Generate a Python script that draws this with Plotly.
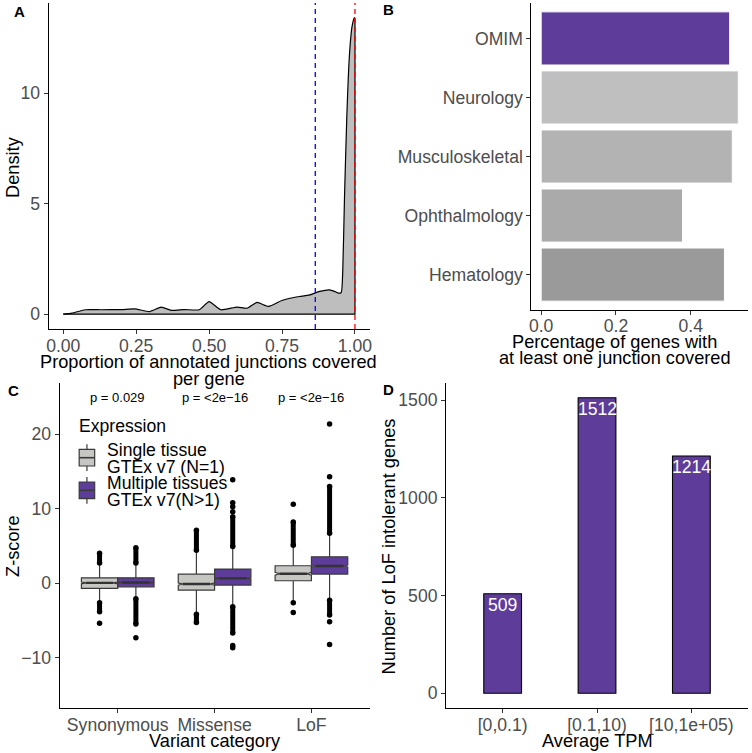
import plotly.graph_objects as go

W, H = 752, 753
FONT = "Liberation Sans, Arial, Helvetica, sans-serif"
PURPLE = "#5E3C99"
TICKC = "#4D4D4D"
TS = 17.6   # tick / legend font size
TT = 18.2   # title font size

# ---------------- Panel A data: density ----------------
dens_x = [0.0, 0.03, 0.076, 0.13, 0.2, 0.245, 0.296, 0.336, 0.37, 0.415, 0.466, 0.5, 0.54,
          0.596, 0.63, 0.664, 0.704, 0.749, 0.777, 0.81, 0.845, 0.879, 0.913, 0.93, 0.944,
          0.953, 0.958, 0.964, 0.972, 0.981, 0.99, 0.998, 1.0]
dens_y = [0.0, 0.05, 0.2, 0.2, 0.21, 0.24, 0.12, 0.32, 0.17, 0.21, 0.2, 0.57, 0.2,
          0.32, 0.27, 0.53, 0.35, 0.62, 0.72, 0.8, 0.87, 1.03, 1.1, 1.03, 0.95,
          0.98, 1.9, 5.2, 8.9, 11.7, 13.0, 13.4, 13.4]
median_line = 0.864
max_line = 1.0
a_xticks = [0, 0.25, 0.5, 0.75, 1.0]
a_yticks = [0, 5, 10]

# ---------------- Panel B data ----------------
b_cats = ["OMIM", "Neurology", "Musculoskeletal", "Ophthalmology", "Hematology"]
b_vals = [0.504, 0.527, 0.511, 0.378, 0.490]
b_colors = [PURPLE, "#BFBFBF", "#B3B3B3", "#AAAAAA", "#9A9A9A"]
b_xticks = [0.0, 0.2, 0.4]

# ---------------- Panel C data (box stats) ----------------
c_cats = ["Synonymous", "Missense", "LoF"]
c_groups = ["Single tissue GTEx v7 (N=1)", "Multiple tissues GTEx v7(N>1)"]
c_colors = ["#C6C6C2", PURPLE]
# [category][group]
c_q1 = [[-0.71, -0.50], [-0.94, -0.27], [0.31, 1.21]]
c_med = [[0.02, 0.07], [-0.13, 0.63], [1.25, 2.29]]
c_q3 = [[0.71, 0.71], [1.20, 1.88], [2.33, 3.54]]
c_lf = [[-2.5, -2.0], [-4.1, -3.1], [-2.5, -2.2]]
c_uf = [[2.6, 2.6], [4.3, 4.8], [5.0, 6.6]]
c_notch = [[0.12, 0.06], [0.15, 0.08], [0.2, 0.12]]
c_out_runs = [[[(2.7, 4.0), (-3.86, -2.65)], [(2.7, 4.75), (-5.5, -2.1)]],
              [[(4.4, 7.1), (-5.3, -4.2)], [(4.9, 8.9), (-6.7, -3.2)]],
              [[(5.1, 8.2)], [(6.7, 13.0), (-4.3, -2.3)]]]
c_out_single = [[[-5.4], [-7.35]],
                [[], [9.6, 10.27, 10.8, 13.9, -8.4, -8.7]],
                [[10.6, -2.65, -3.95], [14.3, 21.4, -5.2, -8.25]]]
c_pvals = ["p = 0.029", "p = <2e\u221216", "p = <2e\u221216"]
c_yticks = [-10, 0, 10, 20]

# ---------------- Panel D data ----------------
d_cats = ["[0,0.1)", "[0.1,10)", "[10,1e+05)"]
d_vals = [509, 1512, 1214]
d_yticks = [0, 500, 1000, 1500]


def px_x(p):
    return p / W


def px_y(p):
    return 1 - p / H


fig = go.Figure()

# ---- Panel A ----
fig.add_trace(go.Scatter(x=dens_x, y=dens_y, mode="lines", fill="tozeroy",
                         fillcolor="#BEBEBE",
                         line=dict(color="black", width=1.2, shape="spline", smoothing=0.5),
                         xaxis="x", yaxis="y", showlegend=False, hoverinfo="skip"))
# baseline and right edge of the density outline
fig.add_trace(go.Scatter(x=[dens_x[0], dens_x[-1], dens_x[-1]], y=[0, 0, dens_y[-1]],
                         mode="lines", line=dict(color="black", width=1.2),
                         xaxis="x", yaxis="y", showlegend=False, hoverinfo="skip"))

# ---- Panel B ----
fig.add_trace(go.Bar(y=b_cats, x=b_vals, orientation="h", width=0.9,
                     marker=dict(color=b_colors, line=dict(color="white", width=1)),
                     xaxis="x2", yaxis="y2", showlegend=False))

# ---- Panel C ----
bw = 0.375
for ci, cat in enumerate(c_cats):
    for gi in range(2):
        pos = ci + (gi - 0.5) * bw
        fig.add_trace(go.Box(x=[pos], q1=[c_q1[ci][gi]], median=[c_med[ci][gi]],
                             q3=[c_q3[ci][gi]], lowerfence=[c_lf[ci][gi]],
                             upperfence=[c_uf[ci][gi]], notched=True,
                             notchspan=[c_notch[ci][gi]], notchwidth=0.12,
                             width=bw, whiskerwidth=0, fillcolor=c_colors[gi],
                             line=dict(color="#3A3A3A", width=1.2), boxpoints=False,
                             xaxis="x3", yaxis="y3", showlegend=False, name=c_groups[gi]))
        # thicker median
        fig.add_trace(go.Scatter(x=[pos - bw * 0.38, pos + bw * 0.38],
                                 y=[c_med[ci][gi]] * 2, mode="lines",
                                 line=dict(color="#333333", width=2.4),
                                 xaxis="x3", yaxis="y3", showlegend=False, hoverinfo="skip"))
        for lo, hi in c_out_runs[ci][gi]:
            fig.add_trace(go.Scatter(x=[pos, pos], y=[lo, hi], mode="lines+markers",
                                     line=dict(color="black", width=5),
                                     marker=dict(color="black", size=5.5),
                                     xaxis="x3", yaxis="y3", showlegend=False, hoverinfo="skip"))
        singles = c_out_single[ci][gi]
        if singles:
            fig.add_trace(go.Scatter(x=[pos] * len(singles), y=singles, mode="markers",
                                     marker=dict(color="black", size=5.5),
                                     xaxis="x3", yaxis="y3", showlegend=False))

# ---- Panel D ----
fig.add_trace(go.Bar(x=d_cats, y=d_vals, width=0.4,
                     marker=dict(color=PURPLE, line=dict(color="black", width=1.1)),
                     xaxis="x4", yaxis="y4", showlegend=False))


def axis_style(**kw):
    d = dict(showline=True, linecolor="black", linewidth=1.1, ticks="outside",
             ticklen=4, tickwidth=1, tickcolor="#333333", showgrid=False, zeroline=False,
             tickfont=dict(size=TS, color=TICKC, family=FONT), fixedrange=True)
    d.update(kw)
    return d


layout = dict(
    width=W, height=H, margin=dict(l=0, r=0, t=0, b=0),
    paper_bgcolor="white", plot_bgcolor="white",
    font=dict(family=FONT, size=TS, color="black"),
    showlegend=False,
    xaxis=axis_style(domain=[px_x(47), px_x(370)], anchor="y", range=[-0.05, 1.05],
                     tickvals=a_xticks, tickformat=".2f", ticklabelstandoff=-3),
    yaxis=axis_style(domain=[px_y(329), px_y(3)], anchor="x", range=[-0.67, 14.07],
                     tickvals=a_yticks),
    xaxis2=axis_style(domain=[px_x(533), px_x(751)], anchor="y2", range=[-0.026, 0.553],
                      tickvals=b_xticks, tickformat=".1f", ticklabelstandoff=-4),
    yaxis2=axis_style(domain=[px_y(310), px_y(3)], anchor="x2", range=[4.6, -0.6],
                      categoryorder="array", categoryarray=b_cats, type="category"),
    xaxis3=axis_style(domain=[px_x(58), px_x(370)], anchor="y3", range=[-0.6, 2.6],
                      tickvals=[0, 1, 2], ticktext=c_cats, ticklabelstandoff=-3),
    yaxis3=axis_style(domain=[px_y(708), px_y(383)], anchor="x3", range=[-16.8, 26.9],
                      tickvals=c_yticks),
    xaxis4=axis_style(domain=[px_x(447), px_x(751)], anchor="y4", range=[-0.6, 2.6],
                      type="category", categoryorder="array", categoryarray=d_cats,
                      ticklabelstandoff=-3),
    yaxis4=axis_style(domain=[px_y(708), px_y(383)], anchor="x4", range=[-75.6, 1587.6],
                      tickvals=d_yticks),
)
fig.update_layout(**layout)

# Vertical lines panel A
fig.add_shape(type="line", xref="x", yref="y domain", x0=max_line, x1=max_line, y0=0, y1=1,
              line=dict(color="red", width=1.3, dash="5px,4px"))
fig.add_shape(type="line", xref="x", yref="y domain", x0=median_line, x1=median_line, y0=0, y1=1,
              line=dict(color="blue", width=1.3, dash="5px,4px"))

ann = []


def text(x, y, s, size=TT, color="black", xanchor="center", angle=0):
    ann.append(dict(x=px_x(x), y=px_y(y), xref="paper", yref="paper", text=s,
                    showarrow=False, xanchor=xanchor, yanchor="middle", textangle=angle,
                    font=dict(size=size, color=color, family=FONT)))


# panel letters
text(10, 12, "<b>A</b>", size=15, xanchor="left")
text(382, 10, "<b>B</b>", size=15, xanchor="left")
text(4, 390, "<b>C</b>", size=15, xanchor="left")
text(382, 389, "<b>D</b>", size=15, xanchor="left")

# axis titles
text(208, 362, "Proportion of annotated junctions covered")
text(208, 379, "per gene")
text(11, 167, "Density", angle=-90)
text(617, 342, "Percentage of genes with")
text(617, 358, "at least one junction covered")
text(11, 546, "Z-score", angle=-90)
text(214, 741, "Variant category")
text(599, 741, "Average TPM")
text(390, 546, "Number of LoF intolerant genes", angle=-90)

# legend panel C
text(76, 426, "Expression", size=TS, xanchor="left")
text(104, 450, "Single tissue", size=TS, xanchor="left")
text(104, 467, "GTEx v7 (N=1)", size=TS, xanchor="left")
text(104, 483, "Multiple tissues", size=TS, xanchor="left")
text(104, 500, "GTEx v7(N>1)", size=TS, xanchor="left")

for (b0, b1, w0, w1, md, col) in [(449.3, 466, 444.3, 471, 457.7, c_colors[0]),
                                  (482, 498.7, 477, 503.7, 490.3, c_colors[1])]:
    xc = 85.5
    fig.add_shape(type="line", xref="paper", yref="paper", x0=px_x(xc), x1=px_x(xc),
                  y0=px_y(w0), y1=px_y(w1), line=dict(color="#3A3A3A", width=1.2))
    fig.add_shape(type="rect", xref="paper", yref="paper", x0=px_x(77.7), x1=px_x(93.3),
                  y0=px_y(b1), y1=px_y(b0), fillcolor=col, line=dict(color="#3A3A3A", width=1.2))
    fig.add_shape(type="line", xref="paper", yref="paper", x0=px_x(77.7), x1=px_x(93.3),
                  y0=px_y(md), y1=px_y(md), line=dict(color="#3A3A3A", width=1.6))

fig.update_layout(annotations=ann)

# p-values (data coords)
for i, p in enumerate(c_pvals):
    fig.add_annotation(x=i, y=24.9, xref="x3", yref="y3", text=p, showarrow=False,
                       font=dict(size=13, color="black", family=FONT))

# bar labels panel D
for c, v in zip(d_cats, d_vals):
    fig.add_annotation(x=c, y=v, xref="x4", yref="y4", text=str(v), showarrow=False,
                       yanchor="middle", yshift=-11,
                       font=dict(size=TS, color="white", family=FONT))

fig.write_html("out.html", config={"displayModeBar": False},
               post_script="document.body.style.margin='0';document.body.style.overflow='hidden';")
